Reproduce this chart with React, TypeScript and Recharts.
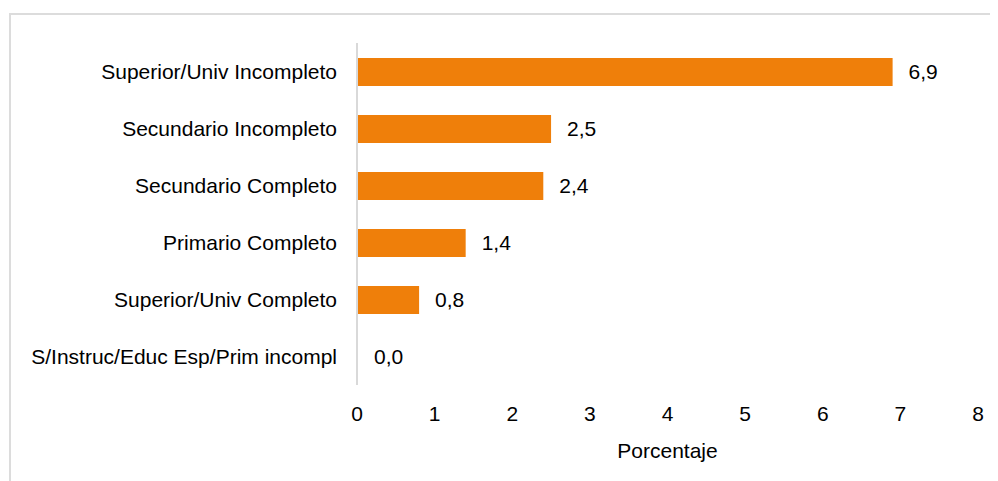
import React from 'react';
import { BarChart, Bar, XAxis, YAxis, LabelList, Cell } from 'recharts';

// Nivel educativo, de arriba hacia abajo
const categories = [
  'Superior/Univ Incompleto',
  'Secundario Incompleto',
  'Secundario Completo',
  'Primario Completo',
  'Superior/Univ Completo',
  'S/Instruc/Educ Esp/Prim incompl',
];
const values = [6.9, 2.5, 2.4, 1.4, 0.8, 0.0];
const xTicks = [0, 1, 2, 3, 4, 5, 6, 7, 8];

const BAR_COLOR = '#EF7F0A';
const FONT = '"Liberation Sans", Arial, Helvetica, sans-serif';

const data = categories.map((name, i) => ({ name, value: values[i] }));

const fmt = (v: any) => Number(v).toFixed(1).replace('.', ',');

export default function App() {
  return (
    <div style={{ position: 'relative', width: 990, height: 473, overflow: 'hidden', fontFamily: FONT }}>
      <div
        style={{
          position: 'absolute',
          left: 1,
          top: 5,
          width: 1100,
          height: 600,
          border: '2px solid #dcdcdc',
          boxSizing: 'border-box',
        }}
      />
      <div style={{ position: 'absolute', left: 0, top: 0 }}>
        <BarChart
          width={990}
          height={473}
          data={data}
          layout="vertical"
          margin={{ top: 35, right: 20, bottom: 16, left: 0 }}
        >
          <XAxis
            type="number"
            domain={[0, 8]}
            ticks={xTicks}
            axisLine={false}
            tickLine={false}
            tickSize={0}
            tickMargin={21}
            height={80}
            tick={{ fill: '#000', fontSize: 21, fontFamily: FONT }}
            label={{
              value: 'Porcentaje',
              position: 'insideBottom',
              offset: 7,
              fill: '#000',
              fontSize: 21,
              fontFamily: FONT,
            }}
          />
          <YAxis
            type="category"
            dataKey="name"
            width={349}
            axisLine={{ stroke: '#d9d9d9', strokeWidth: 2 }}
            tickLine={false}
            tickSize={0}
            tickMargin={20}
            interval={0}
            tick={{ fill: '#000', fontSize: 21, fontFamily: FONT }}
          />
          <Bar dataKey="value" fill={BAR_COLOR} barSize={28} minPointSize={1} isAnimationActive={false}>
            {data.map((d, i) => (
              <Cell key={i} fill={d.value === 0 ? 'none' : BAR_COLOR} />
            ))}
            <LabelList
              dataKey="value"
              position="right"
              offset={16}
              formatter={fmt}
              style={{ fill: '#000', fontSize: 21, fontFamily: FONT }}
            />
          </Bar>
        </BarChart>
      </div>
    </div>
  );
}
